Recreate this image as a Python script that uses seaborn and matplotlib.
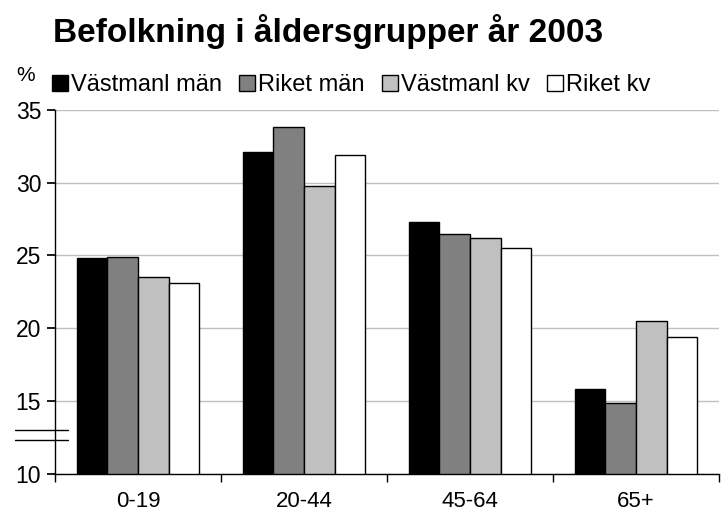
import numpy as np
import pandas as pd
import matplotlib.pyplot as plt
import seaborn as sns

# data
age_groups = ["0-19", "20-44", "45-64", "65+"]
series_names = ["Västmanl män", "Riket män", "Västmanl kv", "Riket kv"]
vastmanl_man = [24.8, 32.1, 27.3, 15.8]
riket_man = [24.9, 33.8, 26.5, 14.9]
vastmanl_kv = [23.5, 29.8, 26.2, 20.5]
riket_kv = [23.1, 31.9, 25.5, 19.4]

colors = ["#000000", "#808080", "#c0c0c0", "#ffffff"]

df = pd.DataFrame({
    "Ålder": age_groups * 4,
    "Grupp": np.repeat(series_names, len(age_groups)),
    "Procent": vastmanl_man + riket_man + vastmanl_kv + riket_kv,
})

sns.set_theme(style="white")
plt.rcParams["font.family"] = ["Liberation Sans", "DejaVu Sans"]

fig = plt.figure(figsize=(7.21, 5.18), dpi=100)
ax = fig.add_axes([0.0763, 0.085, 0.921, 0.703])

sns.barplot(
    data=df, x="Ålder", y="Procent", hue="Grupp", palette=colors,
    edgecolor="black", linewidth=1, width=0.74, ax=ax, legend=False,
    saturation=1,
)

ax.set_ylim(10, 35)
ax.set_xlim(-0.5, 3.5)
ax.set_yticks([10, 15, 20, 25, 30, 35])
ax.yaxis.grid(True, color="#c0c0c0", linewidth=1)
ax.set_axisbelow(True)
ax.set_xlabel("")
ax.set_ylabel("")

for side in ["top", "right"]:
    ax.spines[side].set_visible(False)
for side in ["left", "bottom"]:
    ax.spines[side].set_color("black")
    ax.spines[side].set_linewidth(1)

ax.tick_params(axis="y", which="major", left=True, length=6, color="black",
               labelsize=16.5, pad=4, labelcolor="black")
ax.tick_params(axis="x", which="major", bottom=False, labelsize=16, pad=6,
               labelcolor="black")
ax.set_xticks([-0.5, 0.5, 1.5, 2.5, 3.5], minor=True)
ax.tick_params(axis="x", which="minor", bottom=True, length=6, color="black")

# axis break marks
for yy in [12.3, 13.0]:
    ax.plot([-0.06, 0.02], [yy, yy], transform=ax.get_yaxis_transform(),
            color="black", linewidth=1, clip_on=False)

# legend
handles = [plt.Rectangle((0, 0), 1, 1, facecolor=c, edgecolor="black", linewidth=1)
           for c in colors]
fig.legend(handles, series_names, loc="center left", bbox_to_anchor=(0.072, 0.836),
           ncol=4, frameon=False, fontsize=17, handlelength=0.67, handleheight=0.67,
           handletextpad=0.12, columnspacing=0.75, borderaxespad=0, borderpad=0,
           labelcolor="black")

fig.text(0.0354, 0.855, "%", fontsize=15, ha="center", va="center", color="black")
fig.text(0.074, 0.919, "Befolkning i åldersgrupper år 2003", fontsize=24,
         fontweight="bold", ha="left", va="baseline", color="black")

fig.savefig("out.png", dpi=100)
